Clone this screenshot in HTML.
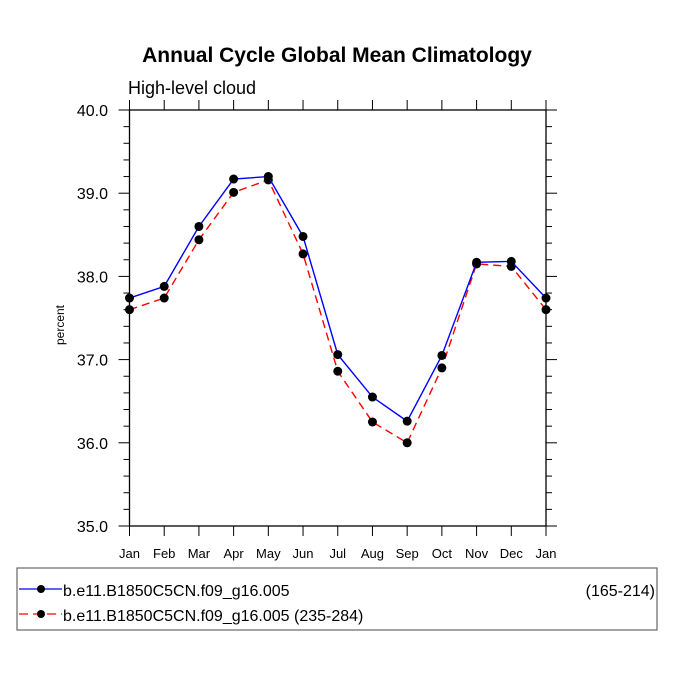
<!DOCTYPE html>
<html><head><meta charset="utf-8"><style>
body{margin:0;background:#fff;}
svg{display:block;font-family:"Liberation Sans",Arial,sans-serif;}
</style></head><body>
<svg id="chart" width="675" height="676" viewBox="0 0 675 676">
<text x="337" y="62" text-anchor="middle" font-size="21" font-weight="bold">Annual Cycle Global Mean Climatology</text>
<text x="128" y="94" font-size="18">High-level cloud</text>
<text transform="translate(64,325) rotate(-90)" text-anchor="middle" font-size="12">percent</text>
<g id="axes"></g>
<g id="series"></g>
<rect x="17" y="568" width="640" height="62" fill="none" stroke="#666" stroke-width="1.2"/>
<g>
<line x1="19" y1="589" x2="62" y2="589" stroke="#00f" stroke-width="1.3"/>
<circle cx="41" cy="589" r="4" fill="#000"/>
<text x="63" y="596" font-size="16">b.e11.B1850C5CN.f09_g16.005</text>
<text x="655" y="596" font-size="16" text-anchor="end">(165-214)</text>
</g>
<g>
<line x1="19" y1="614" x2="62" y2="614" stroke="#f00" stroke-width="1.3" stroke-dasharray="9,5"/>
<circle cx="41" cy="614" r="4" fill="#000"/>
<text x="63" y="621" font-size="16">b.e11.B1850C5CN.f09_g16.005 (235-284)</text>
</g>
</svg>
<script>
const months = ["Jan","Feb","Mar","Apr","May","Jun","Jul","Aug","Sep","Oct","Nov","Dec","Jan"];
const seriesA = [37.74,37.88,38.60,39.17,39.20,38.48,37.06,36.55,36.26,37.05,38.17,38.18,37.74];
const seriesB = [37.60,37.74,38.44,39.01,39.16,38.27,36.86,36.25,36.00,36.90,38.15,38.12,37.60];
const yTicks = [35,36,37,38,39,40];
const yTickLabels = ["35.0","36.0","37.0","38.0","39.0","40.0"];

const L=129.5,R=546,T=110,B=526,yMin=35,yMax=40;
const xs=i=>L+(R-L)*i/(months.length-1);
const ys=v=>B-(B-T)*(v-yMin)/(yMax-yMin);
const NS="http://www.w3.org/2000/svg";
function mk(tag,attrs,parent){const e=document.createElementNS(NS,tag);for(const k in attrs)e.setAttribute(k,attrs[k]);parent.appendChild(e);return e;}
const ax=document.getElementById('axes'), sg=document.getElementById('series');

const frame=mk('rect',{x:L,y:T,width:R-L,height:B-T,fill:'none',stroke:'#000','stroke-width':1.3},ax);


months.forEach((m,i)=>{
  const x=xs(i);
  mk('line',{x1:x,y1:B,x2:x,y2:B+10,stroke:'#000','stroke-width':1},ax);
  mk('line',{x1:x,y1:T,x2:x,y2:T-10,stroke:'#000','stroke-width':1},ax);
  const t=mk('text',{x:x,y:558,'text-anchor':'middle','font-size':13},ax);
  t.textContent=m;
  
  
});
for(let v=yMin;v<=yMax+1e-9;v+=0.2){
  const y=ys(v);const major=Math.abs(v-Math.round(v))<1e-6;
  const len=major?11:6;
  mk('line',{x1:L-len,y1:y,x2:L,y2:y,stroke:'#000','stroke-width':1},ax);
  mk('line',{x1:R,y1:y,x2:R+len,y2:y,stroke:'#000','stroke-width':1},ax);
}
yTicks.forEach((v,i)=>{
  const t=mk('text',{x:108,y:ys(v)+6,'text-anchor':'end','font-size':16},ax);
  t.textContent=yTickLabels[i];
  
  
});
function draw(data,color,dash,name){
  const pts=data.map((v,i)=>xs(i)+','+ys(v)).join(' ');
  const pl=mk('polyline',{points:pts,fill:'none',stroke:color,'stroke-width':1.4},sg);
  if(dash)pl.setAttribute('stroke-dasharray',dash);
  
  
  data.forEach((v,i)=>{
    const c=mk('circle',{cx:xs(i),cy:ys(v),r:4.5,fill:'#000'},sg);
    
    
  });
}
draw(seriesB,'#f00','8,5','series-235-284');
draw(seriesA,'#00f',null,'series-165-214');
</script>
</body></html>
